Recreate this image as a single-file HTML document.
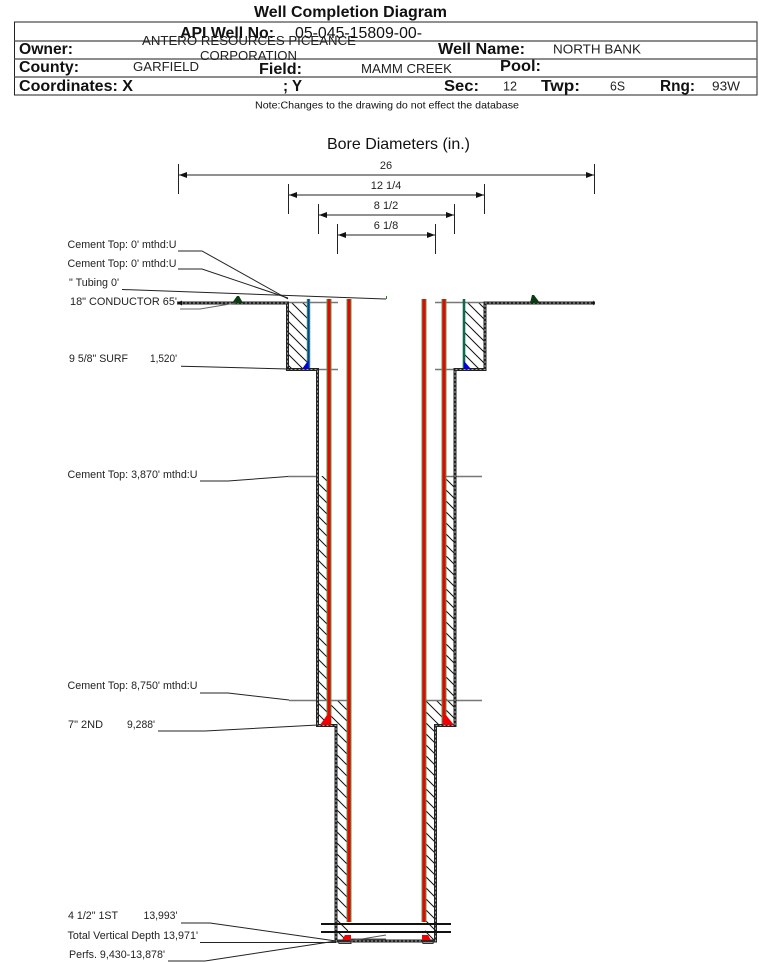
<!DOCTYPE html>
<html><head><meta charset="utf-8"><style>
html,body{margin:0;padding:0;background:#fff;width:759px;height:962px;overflow:hidden}
svg{display:block}
text{font-family:"Liberation Sans",sans-serif;fill:#111}
.b{font-weight:bold;font-size:16px}
.r{font-size:13px;fill:#222}
.s{font-size:11px;fill:#222}
</style></head><body>
<svg width="759" height="962" viewBox="0 0 759 962" xmlns="http://www.w3.org/2000/svg">
<defs>
<pattern id="h" width="11" height="11" patternUnits="userSpaceOnUse">
<path d="M-1 -1L12 12M-1 10L1 12M10 -1L12 1" stroke="#111" stroke-width="1" fill="none"/>
</pattern>
</defs>

<!-- header -->
<text class="b" x="254" y="17" textLength="193" lengthAdjust="spacingAndGlyphs">Well Completion Diagram</text>
<rect x="14.500" y="22" width="742.500" height="73" fill="none" stroke="#222" stroke-width="1"/>
<path d="M14.500 41H757M14.500 59H757M14.500 77H757" stroke="#666" stroke-width="1.500" fill="none"/>
<text class="b" x="180" y="38" textLength="94" lengthAdjust="spacingAndGlyphs">API Well No:</text>
<text x="295" y="38" font-size="16" textLength="127" lengthAdjust="spacingAndGlyphs">05-045-15809-00-</text>
<text class="r" x="142" y="45" textLength="214" lengthAdjust="spacingAndGlyphs">ANTERO RESOURCES PICEANCE</text>
<text class="r" x="200" y="60" textLength="97" lengthAdjust="spacingAndGlyphs">CORPORATION</text>
<text class="b" x="19" y="54" textLength="54" lengthAdjust="spacingAndGlyphs">Owner:</text>
<text class="b" x="438" y="54" textLength="87" lengthAdjust="spacingAndGlyphs">Well Name:</text>
<text class="r" x="553" y="53.500" textLength="88" lengthAdjust="spacingAndGlyphs">NORTH BANK</text>
<text class="b" x="19" y="72" textLength="60" lengthAdjust="spacingAndGlyphs">County:</text>
<text class="r" x="133" y="71" textLength="66" lengthAdjust="spacingAndGlyphs">GARFIELD</text>
<text class="b" x="259" y="74" textLength="43" lengthAdjust="spacingAndGlyphs">Field:</text>
<text class="r" x="361" y="73" textLength="91" lengthAdjust="spacingAndGlyphs">MAMM CREEK</text>
<text class="b" x="500" y="71" textLength="41" lengthAdjust="spacingAndGlyphs">Pool:</text>
<text class="b" x="19" y="91" textLength="114" lengthAdjust="spacingAndGlyphs">Coordinates: X</text>
<text class="b" x="283" y="91" textLength="19" lengthAdjust="spacingAndGlyphs">; Y</text>
<text class="b" x="444" y="91" textLength="35" lengthAdjust="spacingAndGlyphs">Sec:</text>
<text class="r" x="503" y="90.500" textLength="14" lengthAdjust="spacingAndGlyphs">12</text>
<text class="b" x="541" y="91" textLength="39" lengthAdjust="spacingAndGlyphs">Twp:</text>
<text class="r" x="610" y="90.500" textLength="15" lengthAdjust="spacingAndGlyphs">6S</text>
<text class="b" x="660" y="91" textLength="35" lengthAdjust="spacingAndGlyphs">Rng:</text>
<text class="r" x="712" y="90.500" textLength="28" lengthAdjust="spacingAndGlyphs">93W</text>
<text x="255" y="108.500" font-size="10.500" fill="#222" textLength="264" lengthAdjust="spacingAndGlyphs">Note:Changes to the drawing do not effect the database</text>

<!-- dimensions -->
<text x="327" y="149" font-size="16" textLength="143" lengthAdjust="spacingAndGlyphs">Bore Diameters (in.)</text>
<g stroke="#222" stroke-width="1" fill="none">
<path d="M178.500 164V194M594.500 164V194M178 175H594"/>
<path d="M288.500 184V214M484.500 184V214M288 195H484"/>
<path d="M318.500 204V234M454.500 204V234M318 215H454"/>
<path d="M337.500 224V254M435.500 224V254M337 235H435"/>
</g>
<g fill="#111">
<path d="M179 175l8-3v6zM594 175l-8-3v6z"/>
<path d="M289 195l8-3v6zM484 195l-8-3v6z"/>
<path d="M319 215l8-3v6zM454 215l-8-3v6z"/>
<path d="M338 235l8-3v6zM435 235l-8-3v6z"/>
</g>
<g text-anchor="middle">
<text class="s" x="386" y="169">26</text>
<text class="s" x="386" y="189">12 1/4</text>
<text class="s" x="386" y="209">8 1/2</text>
<text class="s" x="386" y="229">6 1/8</text>
</g>

<!-- hatching -->
<g fill="url(#h)">
<rect x="288" y="303" width="20" height="66"/>
<rect x="464" y="303" width="21" height="66"/>
<rect x="318" y="476" width="11" height="250"/>
<rect x="444" y="476" width="11" height="250"/>
<rect x="330" y="700" width="18" height="26"/>
<rect x="337" y="726" width="11" height="215"/>
<rect x="425" y="700" width="19" height="26"/>
<rect x="425" y="726" width="10" height="215"/>
</g>

<!-- guide lines -->
<g stroke="#777" stroke-width="1.500" fill="none">
<path d="M288 302.500H338M435 302.500H485M318 369.500H338M435 369.500H455"/>
<path d="M289 700.500H348M425 700.500H482M445 476.500H482M288 476.500H318"/>
</g>

<!-- walls -->
<path d="M177 303H287.500V369.500H317.500V725.500H336V941H435.500V725.500H455V369.500H485V303H595" fill="none" stroke="#222" stroke-width="3"/>
<path d="M177 303H287.500V369.500H317.500V725.500H336V941H435.500V725.500H455V369.500H485V303H595" fill="none" stroke="#ccc" stroke-width="0.800" stroke-dasharray="2 2"/>

<!-- pipes -->
<g fill="none">
<path d="M308.500 299V368" stroke="#3f9a70" stroke-width="3.500"/>
<path d="M308.500 299V368" stroke="#0a3fa8" stroke-width="1.800"/>
<path d="M464 299V368" stroke="#0b6b50" stroke-width="2.600"/>
<g stroke="#4aa04a" stroke-width="5">
<path d="M329 299V724M349 299V922M424 299V922M444 299V724"/>
</g>
<g stroke="#f00000" stroke-width="3">
<path d="M329 299V724M349 299V922M424 299V922M444 299V724"/>
</g>
</g>
<path d="M302 369l6.500-9v9zM464 361l7 8h-7z" fill="#0000e0"/>
<path d="M320 725l7-10h4v10zM443 715h3l8 10h-11z" fill="#f00000"/>
<path d="M342 940l3-5h6v5zM422 935h6l3 5h-9z" fill="#f00000"/>
<path d="M338 941h12l1 2.500h-12zM422 941h12l-1 2.500h-10z" fill="none" stroke="#333" stroke-width="1"/>
<path d="M232 303l5-7 2 0 4 7zM530 303l2-8 2 0 6 8z" fill="#0c3d12"/>
<path d="M386.500 296V299" stroke="#1a8a1a" stroke-width="1"/>
<path d="M177 303l5-2.500v5z" fill="#111"/>
<path d="M595 303l-2-2.500v5z" fill="#111"/>

<!-- bottom lines -->
<path d="M321 924H451M321 932H451" stroke="#111" stroke-width="2" fill="none"/>
<path d="M350 941L386 935M350 939H386" stroke="#555" stroke-width="1" fill="none"/>

<!-- leaders -->
<g stroke="#222" stroke-width="1" fill="none">
<path d="M178 251H202L288 299"/>
<path d="M178 269H202L288 298"/>
<path d="M122 289.500L386 299"/>
<path d="M180 309H200L236 303" stroke="#666"/>
<path d="M181 366.300L203 366.700L288 369"/>
<path d="M200 481H228L288 476.500"/>
<path d="M200 693H228L289 700"/>
<path d="M158 731H205L318 725"/>
<path d="M181 923H210L336 941"/>
<path d="M200 942.500H336"/>
<path d="M168 961H205L336 941"/>
</g>

<!-- labels -->
<text class="s" x="67.500" y="248" textLength="109" lengthAdjust="spacingAndGlyphs">Cement Top: 0' mthd:U</text>
<text class="s" x="67.500" y="267" textLength="109" lengthAdjust="spacingAndGlyphs">Cement Top: 0' mthd:U</text>
<text class="s" x="69" y="286" textLength="50" lengthAdjust="spacingAndGlyphs">" Tubing 0'</text>
<text class="s" x="70" y="305" textLength="107" lengthAdjust="spacingAndGlyphs">18" CONDUCTOR  65'</text>
<text class="s" x="69" y="362" textLength="59" lengthAdjust="spacingAndGlyphs">9 5/8" SURF</text>
<text class="s" x="150" y="362" textLength="27" lengthAdjust="spacingAndGlyphs">1,520'</text>
<text class="s" x="67.500" y="478" textLength="130" lengthAdjust="spacingAndGlyphs">Cement Top: 3,870' mthd:U</text>
<text class="s" x="67.500" y="689" textLength="130" lengthAdjust="spacingAndGlyphs">Cement Top: 8,750' mthd:U</text>
<text class="s" x="68" y="728" textLength="35" lengthAdjust="spacingAndGlyphs">7" 2ND</text>
<text class="s" x="127" y="728" textLength="28" lengthAdjust="spacingAndGlyphs">9,288'</text>
<text class="s" x="68" y="919" textLength="50" lengthAdjust="spacingAndGlyphs">4 1/2" 1ST</text>
<text class="s" x="143.500" y="919" textLength="34" lengthAdjust="spacingAndGlyphs">13,993'</text>
<text class="s" x="67.500" y="939" textLength="130.500" lengthAdjust="spacingAndGlyphs">Total Vertical Depth 13,971'</text>
<text class="s" x="69" y="958" textLength="96" lengthAdjust="spacingAndGlyphs">Perfs. 9,430-13,878'</text>
</svg>
</body></html>
